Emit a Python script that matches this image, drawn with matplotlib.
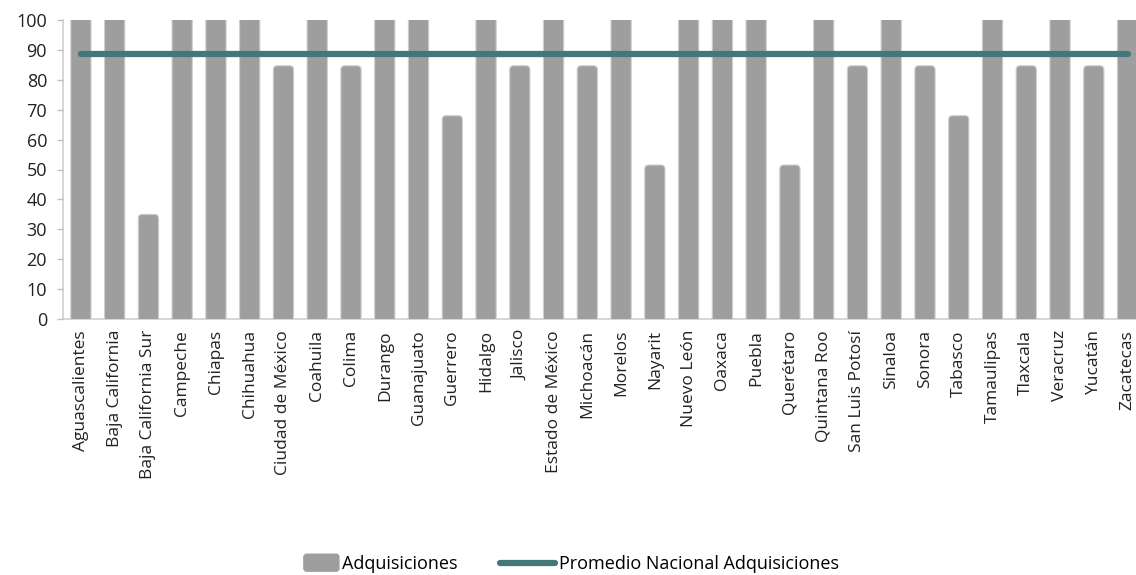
import matplotlib
matplotlib.use("Agg")
import matplotlib.pyplot as plt
from matplotlib.lines import Line2D
from matplotlib.patches import Patch, FancyBboxPatch
from matplotlib.legend_handler import HandlerPatch

estados = ["Aguascalientes", "Baja California", "Baja California Sur", "Campeche", "Chiapas",
           "Chihuahua", "Ciudad de México", "Coahuila", "Colima", "Durango", "Guanajuato",
           "Guerrero", "Hidalgo", "Jalisco", "Estado de México", "Michoacán", "Morelos",
           "Nayarit", "Nuevo León", "Oaxaca", "Puebla", "Querétaro", "Quintana Roo",
           "San Luis Potosí", "Sinaloa", "Sonora", "Tabasco", "Tamaulipas", "Tlaxcala",
           "Veracruz", "Yucatán", "Zacatecas"]
adquisiciones = [100, 100, 35, 100, 100, 100, 84.7, 100, 84.7, 100, 100, 68, 100, 84.7, 100,
                 84.7, 100, 51.5, 100, 100, 100, 51.5, 100, 84.7, 100, 84.7, 68, 100, 84.7,
                 100, 84.7, 100]
promedio = 88.5
yticks = list(range(0, 101, 10))

BAR = "#9e9e9e"
LINE = "#43777a"

plt.rcParams['font.family'] = ['Open Sans', 'DejaVu Sans']

fig = plt.figure(figsize=(11.36, 5.75), dpi=100)
ax = fig.add_axes([63/1136, 1-319/575, (1136-63)/1136, 299/575])

x = list(range(len(estados)))
ax.set_xlim(-0.53, 31.25)
ax.set_ylim(0, 100)
ytop = ax.get_ylim()[1]

bars = ax.bar(x, adquisiciones, width=0.6, color=BAR, zorder=2)
# rounded tops: replace the rectangles with rounded boxes; bottom hidden below the axis,
# bars reaching the top of the axis are clipped flat like in the original
x_per_px = (31.25 + 0.53) / (1136 - 63)
y_per_px = 100 / 299
for b in bars:
    bx, by = b.get_x(), b.get_y()
    bw, bh = b.get_width(), b.get_height()
    b.set_visible(False)
    extra_top = 3 if by + bh >= ytop else 0
    p = FancyBboxPatch((bx, by - 3), bw, bh + 3 + extra_top,
                       boxstyle="round,pad=0,rounding_size=%f" % (4 * x_per_px),
                       mutation_aspect=y_per_px / x_per_px,
                       facecolor=BAR, edgecolor="#cfcfcf", linewidth=0.8, zorder=2)
    ax.add_patch(p)

ax.plot([x[0], x[-1]], [promedio] * 2, color=LINE, linewidth=4.5,
        solid_capstyle="round", zorder=3)

ax.set_yticks(yticks)
ax.set_yticklabels([str(t) for t in yticks], fontsize=13, color="#222222")
ax.set_xticks(x)
ax.set_xticklabels(estados, rotation=90, fontsize=12.5, color="#222222")
ax.tick_params(axis="x", length=0, pad=8)
ax.tick_params(axis="y", length=4.5, color="#bfbfbf", width=1, pad=7)
for s in ["top", "right"]:
    ax.spines[s].set_visible(False)
for s in ["left", "bottom"]:
    ax.spines[s].set_color("#cfcfcf")
    ax.spines[s].set_linewidth(1.2)
    ax.spines[s].set_zorder(1)


def patch_func(legend, orig_handle, xdescent, ydescent, width, height, fontsize):
    w, h = 25.2, 12.2
    return FancyBboxPatch((width - xdescent - w, -ydescent + height / 2 - h / 2), w, h,
                          boxstyle="round,pad=0,rounding_size=2")


handles = [Patch(facecolor=BAR, edgecolor=BAR),
           Line2D([0], [0], color=LINE, linewidth=4.5, solid_capstyle="round")]
fig.legend(handles, ["Adquisiciones", "Promedio Nacional Adquisiciones"], loc="center",
           bbox_to_anchor=(561 / 1136, 1 - 564 / 575), ncol=2, frameon=False, fontsize=13,
           handlelength=3.1, handletextpad=0.2, columnspacing=2.3,
           handler_map={Patch: HandlerPatch(patch_func=patch_func)})

fig.savefig("out.png", dpi=100)
